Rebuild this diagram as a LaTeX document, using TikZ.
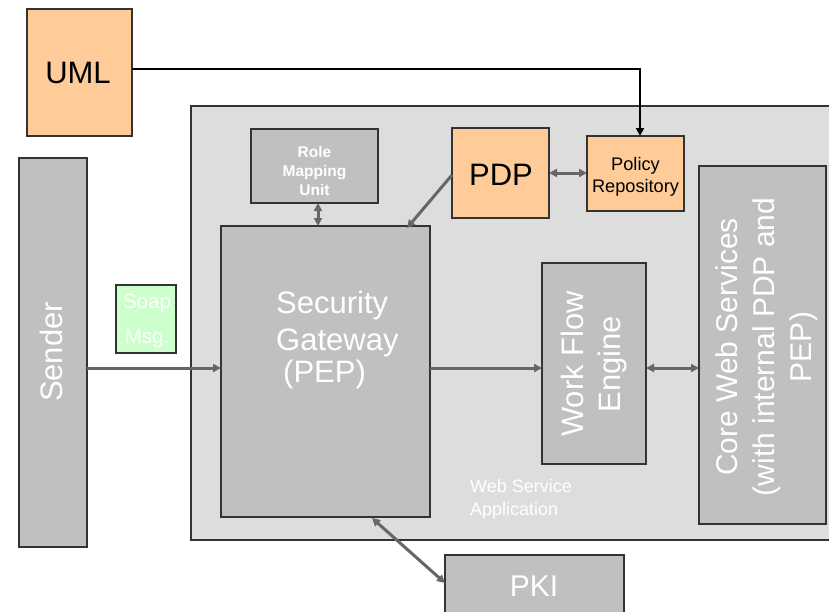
\documentclass[tikz,border=0pt]{standalone}
\usepackage{fontspec}
\setmainfont{Liberation Sans}
\usetikzlibrary{arrows.meta}
\definecolor{orangefill}{HTML}{FFCC99}
\definecolor{grayfill}{HTML}{C0C0C0}
\definecolor{appfill}{HTML}{DDDDDD}
\definecolor{soapfill}{HTML}{CCFFCC}
\definecolor{arrowgray}{HTML}{666666}
\definecolor{edgegray}{HTML}{333333}
\tikzset{
  box/.style={draw=edgegray, line width=1.3pt, inner sep=0pt, outer sep=0pt},
  orangebox/.style={box, fill=orangefill},
  graybox/.style={box, fill=grayfill},
  tip/.tip={Triangle[length=8pt,width=8pt]},
  conn/.style={draw=arrowgray, line width=3pt, -tip},
  dconn/.style={draw=arrowgray, line width=3pt, tip-tip},
  wtext/.style={text=white, font=#1, inner sep=0pt},
}
\begin{document}
\begin{tikzpicture}[x=1pt,y=-1pt]
\clip (0,0) rectangle (829,611);
\fill[white] (0,0) rectangle (829,611);
% outer application box
\draw[box, fill=appfill] (191,106) rectangle (840,540);
\coordinate (apptext) at (470,499.5);
\node[wtext={\fontsize{18}{23}\selectfont}, align=left, anchor=west] (wsa) at (apptext) {Web Service\\Application};
% boxes
\draw[orangebox] (27,9) rectangle (132,136);
\node[inner sep=0pt, font=\fontsize{31}{36}\selectfont] (uml) at (78,72.5) {UML};
\coordinate (umlE) at (132,69);

\draw[graybox] (19,158) rectangle (87,547);
\node[wtext={\fontsize{31}{36}\selectfont}, rotate=90] (sender) at (51,352) {Sender};
\coordinate (senderE) at (87,368);

\draw[box, fill=soapfill] (116,285) rectangle (176,353);
\node[wtext={\fontsize{20.5}{35}\selectfont}, align=center] (soap) at (147,321) {Soap\\Msg.};

\draw[graybox] (251,129) rectangle (378,203);
\node[wtext={\bfseries\fontsize{15.5}{19}\selectfont}, align=center] (role) at (314.5,171) {Role\\Mapping\\Unit};
\coordinate (roleS) at (318,203);

\draw[orangebox] (452,128) rectangle (549,218);
\node[inner sep=0pt, font=\fontsize{31}{36}\selectfont] (pdp) at (501,175) {PDP};
\coordinate (pdpW) at (452,175);
\coordinate (pdpE) at (549,173);

\draw[orangebox] (587,136) rectangle (684,211);
\node[inner sep=0pt, align=center, font=\fontsize{18.2}{22}\selectfont] (polrep) at (635.5,177) {Policy\\Repository};
\coordinate (polW) at (587,173);
\coordinate (polN) at (640,136);

\draw[graybox] (221,226) rectangle (430,517);
\node[wtext={\fontsize{31}{36}\selectfont}, anchor=base west] (gw1) at (276,313) {Security};
\node[wtext={\fontsize{31}{36}\selectfont}, anchor=base west] (gw2) at (276,350) {Gateway};
\node[wtext={\fontsize{31}{36}\selectfont}, anchor=base west] (gw3) at (283,382) {(PEP)};
\coordinate (gwW) at (221,368);
\coordinate (gwE) at (430,368);
\coordinate (gwN1) at (318,226);
\coordinate (gwN2) at (407,228);
\coordinate (gwS) at (372,518);

\draw[graybox] (542,263) rectangle (646,464);
\node[wtext={\fontsize{31}{37}\selectfont}, rotate=90, align=center] (wfe) at (594,364) {Work Flow\\Engine};
\coordinate (wfeW) at (542,368);
\coordinate (wfeE) at (646,368);

\draw[graybox] (699,166) rectangle (826,524);
\node[wtext={\fontsize{30}{37}\selectfont}, rotate=90, align=center] (core) at (767,347) {Core Web Services\\(with internal PDP and\\PEP)};
\coordinate (coreW) at (699,368);

\draw[graybox] (445,555) rectangle (624,640);
\node[wtext={\fontsize{30}{36}\selectfont}] (pki) at (534,586) {PKI};
\coordinate (pkiW) at (445,583);

% connectors
\draw[line width=2.6pt, -{Triangle[length=8pt,width=8pt]}] (umlE) -| (polN);
\draw[conn] (senderE) -- (gwW);
\draw[conn] (gwE) -- (wfeW);
\draw[dconn] (wfeE) -- (coreW);
\draw[dconn] (roleS) -- (gwN1);
\draw[dconn] (pdpE) -- (polW);
\draw[conn] (pdpW) -- (gwN2);
\draw[dconn] (gwS) -- (pkiW);
\end{tikzpicture}
\end{document}
